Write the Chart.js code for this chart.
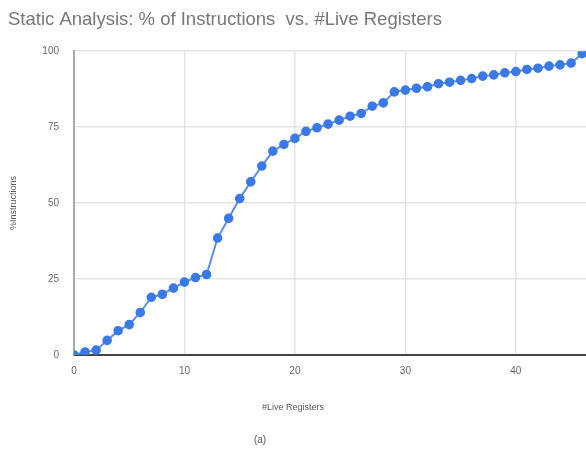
<!DOCTYPE html>
<html lang="en">
<head>
    <meta charset="UTF-8">
    <title>Static Analysis</title>
    <script src="https://cdn.jsdelivr.net/npm/chart.js"></script>
    <style>
        html, body { margin: 0; padding: 0; background: #fff; overflow: hidden; }
        #wrap { width: 586px; height: 457px; }
    </style>
</head>
<body>
    <div id="wrap"><canvas id="myChart" width="586" height="457"></canvas></div>
    <script>
        // #Live Registers
        const registers = [0, 1, 2, 3, 4, 5, 6, 7, 8, 9, 10, 11, 12, 13, 14, 15, 16, 17, 18, 19,
            20, 21, 22, 23, 24, 25, 26, 27, 28, 29, 30, 31, 32, 33, 34, 35, 36, 37, 38, 39,
            40, 41, 42, 43, 44, 45, 46, 47];
        // %Instructions
        const instructions = [0, 1, 1.6, 4.8, 8, 10, 14, 19, 20, 22, 24, 25.5, 26.5, 38.5, 45, 51.5,
            57, 62.2, 67.1, 69.3, 71.3, 73.6, 74.8, 76, 77.3, 78.6, 79.5, 81.9, 83, 86.6,
            87.2, 87.8, 88.3, 89.3, 89.8, 90.4, 91, 91.8, 92.2, 92.9, 93.3, 94, 94.4, 95.1,
            95.5, 96.1, 99.2, 100];
        const xTicks = [0, 10, 20, 30, 40];
        const yTicks = [0, 25, 50, 75, 100];

        const points = registers.map((r, i) => ({ x: r, y: instructions[i] }));

        const captions = {
            id: 'captions',
            afterDraw(chart) {
                const c = chart.ctx;
                const a = chart.chartArea;
                c.save();
                c.fillStyle = '#555';
                c.textAlign = 'center';
                c.textBaseline = 'middle';
                c.font = '9px "Liberation Sans", Arial, sans-serif';
                c.fillText('#Live Registers', a.left + 219, a.bottom + 53);
                c.font = '10px "Liberation Sans", Arial, sans-serif';
                c.fillText('(a)', a.left + 186, a.bottom + 85);
                c.restore();
            }
        };

        const ctx = document.getElementById('myChart').getContext('2d');
        const myChart = new Chart(ctx, {
            type: 'line',
            data: {
                datasets: [{
                    data: points,
                    borderColor: '#5a8fe6',
                    backgroundColor: '#3b7ae6',
                    pointBackgroundColor: '#3b7ae6',
                    pointBorderColor: '#3b7ae6',
                    borderWidth: 2,
                    pointRadius: 3.8,
                    tension: 0
                }]
            },
            options: {
                responsive: false,
                animation: false,
                layout: { autoPadding: false, padding: { left: 8, right: 0, top: 0, bottom: 0 } },
                plugins: {
                    legend: { display: false },
                    tooltip: { enabled: false },
                    title: {
                        display: true,
                        text: 'Static Analysis: % of Instructions  vs. #Live Registers',
                        align: 'start',
                        color: '#777',
                        font: { family: '"Liberation Sans", Arial, sans-serif', size: 18.5, weight: 'normal' },
                        padding: { top: 9, bottom: 20 }
                    }
                },
                scales: {
                    x: {
                        type: 'linear',
                        min: 0,
                        max: 46.35,
                        afterBuildTicks: (s) => { s.ticks = xTicks.map(v => ({ value: v })); },
                        afterFit: (s) => { s.height = 102; s.paddingLeft = 0; s.paddingRight = 0; },
                        grid: { color: '#e4e4e4', lineWidth: 1.5, drawTicks: false },
                        border: { color: '#444', width: 2 },
                        ticks: {
                            color: '#666',
                            padding: 10,
                            font: { family: '"Liberation Sans", Arial, sans-serif', size: 10 }
                        }
                    },
                    y: {
                        min: 0,
                        max: 100,
                        afterBuildTicks: (s) => { s.ticks = yTicks.map(v => ({ value: v })); },
                        afterFit: (s) => { s.width = 66; s.paddingTop = 0; s.paddingBottom = 0; },
                        grid: { color: '#e4e4e4', lineWidth: 1.5, drawTicks: false },
                        border: { color: '#aaa', width: 2 },
                        ticks: {
                            color: '#666',
                            padding: 15,
                            font: { family: '"Liberation Sans", Arial, sans-serif', size: 10 }
                        },
                        title: {
                            display: true,
                            text: '%Instructions',
                            color: '#555',
                            padding: { top: 0, bottom: 20 },
                            font: { family: '"Liberation Sans", Arial, sans-serif', size: 9 }
                        }
                    }
                }
            },
            plugins: [captions]
        });
    </script>
</body>
</html>
